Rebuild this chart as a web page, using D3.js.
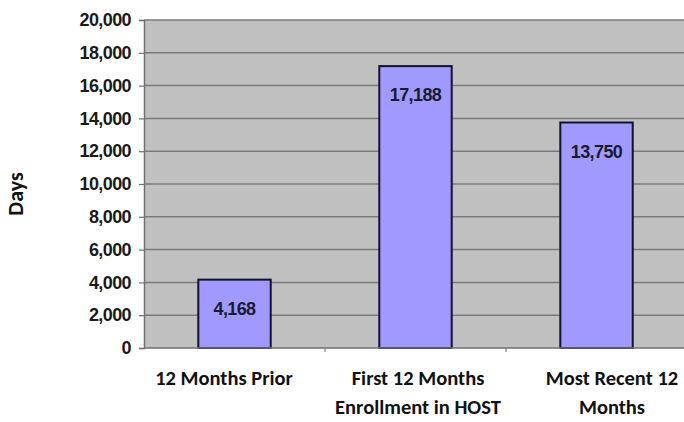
<!DOCTYPE html>
<html>
<head>
<meta charset="utf-8">
<script src="https://cdn.jsdelivr.net/npm/d3@7"></script>
<style>
  html, body { margin: 0; padding: 0; background: #ffffff; }
  svg { display: block; }
</style>
</head>
<body>
<svg id="chart" width="684" height="422"></svg>
<script>
// Days counted in each enrollment period
const categories = [
  ["12 Months Prior"],
  ["First 12 Months", "Enrollment in HOST"],
  ["Most Recent 12", "Months"]
];
const days = [4168, 17188, 13750];
const yTicks = [0, 2000, 4000, 6000, 8000, 10000, 12000, 14000, 16000, 18000, 20000];
const yTitle = "Days";

const svg = d3.select("#chart");
const margin = { left: 144, right: -3, top: 20, bottom: 74 };
const W = 684 - margin.left - margin.right;
const H = 422 - margin.top - margin.bottom;

const keys = categories.map(c => c.join(" "));

const x = d3.scaleBand()
  .domain(keys)
  .range([margin.left, margin.left + W])
  .paddingInner(0.6)
  .paddingOuter(0.3);

// category captions sit on their own, slightly wider spacing
const xLabel = d3.scalePoint()
  .domain(keys)
  .range([224, 612]);

const y = d3.scaleLinear()
  .domain([0, 20000])
  .range([margin.top + H, margin.top]);

const numFont = "'Liberation Sans', Arial, sans-serif";
const catFont = "Carlito, Lato, 'Open Sans', sans-serif";
const fmt = d3.format(",");

// plot area background
svg.append("rect")
  .attr("x", margin.left)
  .attr("y", margin.top)
  .attr("width", W)
  .attr("height", H)
  .attr("fill", "#c0c0c0");

// horizontal gridlines
svg.append("g")
  .selectAll("line")
  .data(yTicks.filter(t => t > 0))
  .join("line")
  .attr("x1", margin.left)
  .attr("x2", margin.left + W)
  .attr("y1", d => y(d))
  .attr("y2", d => y(d))
  .attr("stroke", "#7a7a7a")
  .attr("stroke-width", 1.5);

// y axis
const yAxis = svg.append("g")
  .attr("transform", `translate(${margin.left},0)`)
  .call(d3.axisLeft(y).tickValues(yTicks).tickFormat(fmt).tickSize(5).tickPadding(8));
yAxis.select(".domain").attr("stroke", "#707070").attr("stroke-width", 1.5);
yAxis.selectAll(".tick line").attr("stroke", "#707070").attr("stroke-width", 1.2);
yAxis.selectAll(".tick text")
  .attr("font-family", numFont)
  .attr("font-size", 18)
  .attr("font-weight", "bold")
  .attr("letter-spacing", "-0.6px")
  .attr("fill", "#1a1a1a");

// bars
svg.append("g")
  .selectAll("rect")
  .data(days)
  .join("rect")
  .attr("x", (d, i) => x(keys[i]))
  .attr("y", d => y(d))
  .attr("width", x.bandwidth())
  .attr("height", d => y(0) - y(d))
  .attr("fill", "#a09aff")
  .attr("stroke", "#111133")
  .attr("stroke-width", 2);

// value labels inside the top of each bar
svg.append("g")
  .selectAll("text")
  .data(days)
  .join("text")
  .attr("x", (d, i) => x(keys[i]) + x.bandwidth() / 2)
  .attr("y", d => y(d) + 35)
  .attr("text-anchor", "middle")
  .attr("font-family", numFont)
  .attr("font-size", 18)
  .attr("font-weight", "bold")
  .attr("letter-spacing", "-0.6px")
  .attr("fill", "#1a1a33")
  .text(d => fmt(d));

// x axis with ticks at category boundaries
const xAxisG = svg.append("g");
xAxisG.append("line")
  .attr("x1", margin.left)
  .attr("x2", margin.left + W)
  .attr("y1", y(0))
  .attr("y2", y(0))
  .attr("stroke", "#707070")
  .attr("stroke-width", 1.5);
xAxisG.selectAll("line.tick")
  .data(keys.slice(1))
  .join("line")
  .attr("class", "tick")
  .attr("x1", d => x(d) - x.step() * x.paddingInner() / 2)
  .attr("x2", d => x(d) - x.step() * x.paddingInner() / 2)
  .attr("y1", y(0))
  .attr("y2", y(0) + 4)
  .attr("stroke", "#707070")
  .attr("stroke-width", 1);

// category labels
const catLabels = svg.append("g")
  .selectAll("text")
  .data(categories)
  .join("text")
  .attr("x", (d, i) => xLabel(keys[i]))
  .attr("y", 385)
  .attr("text-anchor", "middle")
  .attr("font-family", catFont)
  .attr("font-size", 20.5)
  .attr("font-weight", "bold")
  .attr("fill", "#111111");
catLabels.selectAll("tspan")
  .data(d => d)
  .join("tspan")
  .attr("x", function () { return d3.select(this.parentNode).attr("x"); })
  .attr("dy", (d, i) => i === 0 ? 0 : 29)
  .text(d => d);

// y axis title
svg.append("text")
  .attr("transform", "translate(23,194) rotate(-90)")
  .attr("text-anchor", "middle")
  .attr("font-family", catFont)
  .attr("font-size", 22)
  .attr("font-weight", "bold")
  .attr("fill", "#111111")
  .text(yTitle);
</script>
</body>
</html>
